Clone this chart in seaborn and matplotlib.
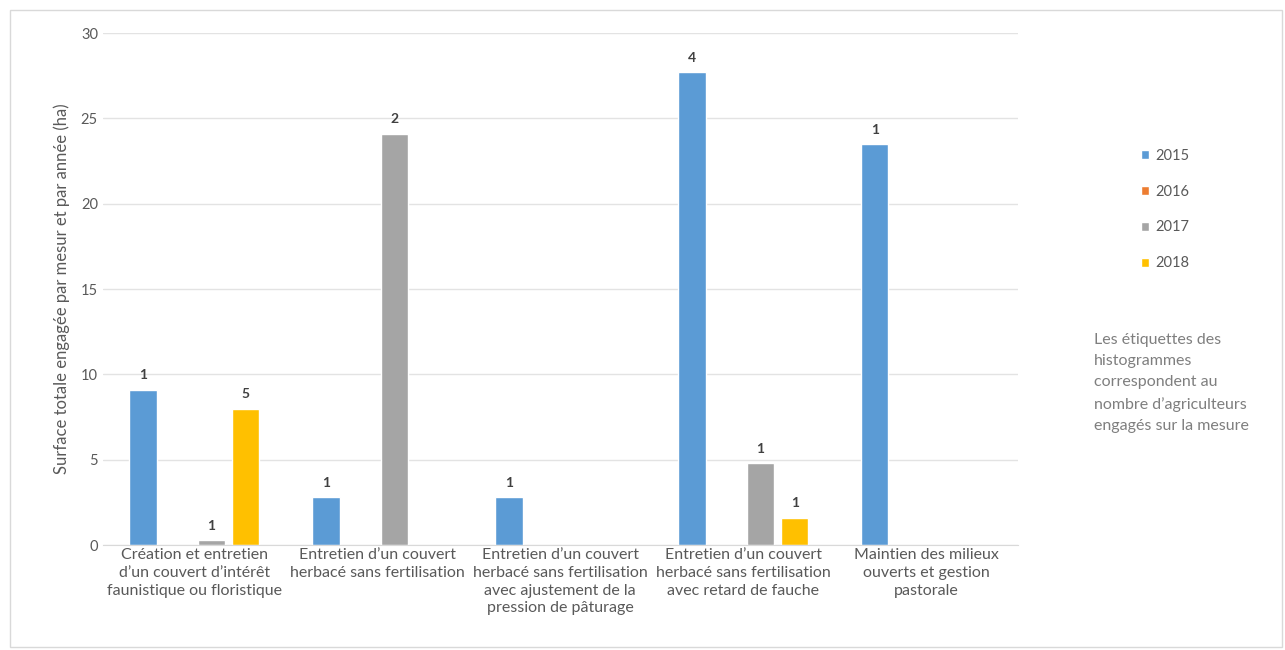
import numpy as np
import pandas as pd
from matplotlib import pyplot as plt
import seaborn as sns

# data
mesures = [
    "Création et entretien\nd’un couvert d’intérêt\nfaunistique ou floristique",
    "Entretien d’un couvert\nherbacé sans fertilisation",
    "Entretien d’un couvert\nherbacé sans fertilisation\navec ajustement de la\npression de pâturage",
    "Entretien d’un couvert\nherbacé sans fertilisation\navec retard de fauche",
    "Maintien des milieux\nouverts et gestion\npastorale",
]
annees = ["2015", "2016", "2017", "2018"]
couleurs = ["#5B9BD5", "#ED7D31", "#A5A5A5", "#FFC000"]

# surface (ha) per mesure, one list per year (nan = no bar)
surf_2015 = [9.1, 2.8, 2.8, 27.7, 23.5]
surf_2016 = [np.nan, np.nan, np.nan, np.nan, np.nan]
surf_2017 = [0.3, 24.1, np.nan, 4.8, np.nan]
surf_2018 = [8.0, np.nan, np.nan, 1.6, np.nan]

# nombre d'agriculteurs (bar labels)
nb_2015 = [1, 1, 1, 4, 1]
nb_2016 = [0, 0, 0, 0, 0]
nb_2017 = [1, 2, 0, 1, 0]
nb_2018 = [5, 0, 0, 1, 0]

rows = []
for an, surf, nb in zip(annees, [surf_2015, surf_2016, surf_2017, surf_2018],
                        [nb_2015, nb_2016, nb_2017, nb_2018]):
    for m, s, n in zip(mesures, surf, nb):
        if not np.isnan(s):
            rows.append({"mesure": m, "annee": an, "surface": s, "nb": n})
df = pd.DataFrame(rows)

sns.set_style("white")
plt.rcParams['font.family'] = ['Lato', 'DejaVu Sans']

fig = plt.figure(figsize=(12.85, 6.5), dpi=100)
ax = fig.add_axes([0.080, 0.1615, 0.712, 0.7875])

sns.barplot(data=df, x="mesure", y="surface", hue="annee", order=mesures,
            hue_order=annees, palette=couleurs, width=0.75, gap=0.2,
            saturation=1, ax=ax)

# labels = number of farmers
for cont, an in zip(ax.containers, annees):
    sub = df[df["annee"] == an].set_index("mesure").reindex(mesures).dropna()
    if len(cont) == 0:
        continue
    ax.bar_label(cont, labels=[str(int(v)) for v in sub["nb"]], padding=6,
                 fontsize=10, fontweight="bold", color="#404040")

ax.set_ylim(0, 30)
ax.set_yticks(range(0, 31, 5))
ax.set_xlim(-0.5, 4.5)
ax.grid(axis="y", color="#E3E3E3", linewidth=1)
ax.set_axisbelow(True)
for s in ["top", "right", "left"]:
    ax.spines[s].set_visible(False)
ax.spines["bottom"].set_color("#D9D9D9")
ax.tick_params(axis="both", colors="#595959", labelsize=10.5, length=0)
ax.tick_params(axis="x", pad=2, labelsize=11.5)
for t in ax.get_xticklabels():
    t.set_linespacing(1.35)
ax.set_xlabel("")
ax.set_ylabel("Surface totale engagée par mesur et par année (ha)",
              fontsize=12, color="#595959", labelpad=8)

ax.legend(loc="upper left", bbox_to_anchor=(1.12, 0.80), frameon=False,
          fontsize=10.5, labelcolor="#595959", handlelength=0.6, handleheight=0.6,
          labelspacing=1.5, handletextpad=0.4)

fig.text(0.851, 0.488,
         "Les étiquettes des\nhistogrammes\ncorrespondent au\nnombre d’agriculteurs\nengagés sur la mesure",
         fontsize=11.5, color="#7F7F7F", va="top", ha="left", linespacing=1.65)

# light frame around the chart
fig.patches.append(plt.Rectangle((0.008, 0.005), 0.99, 0.98, transform=fig.transFigure,
                                 fill=False, edgecolor="#D9D9D9", linewidth=1))

plt.savefig("out.png", dpi=100)
